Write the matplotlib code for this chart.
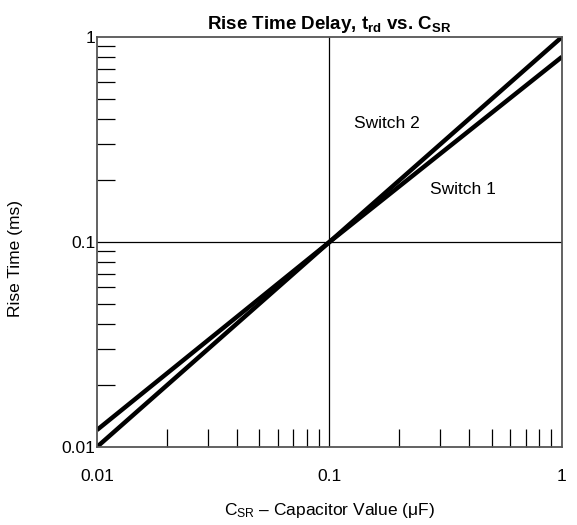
import matplotlib
matplotlib.use('Agg')
import matplotlib.pyplot as plt
from matplotlib.ticker import FixedLocator, NullFormatter

plt.rcParams['font.family'] = ['Liberation Sans', 'DejaVu Sans']
plt.rcParams['mathtext.fontset'] = 'custom'
plt.rcParams['mathtext.rm'] = 'Liberation Sans'
plt.rcParams['mathtext.it'] = 'Liberation Sans'
plt.rcParams['mathtext.bf'] = 'Liberation Sans:bold'

# Data
cap_uf = [0.01, 0.1, 1.0]
switch1_ms = [0.0121, 0.1, 0.80]
switch2_ms = [0.01, 0.1, 1.0]
major_ticks = [0.01, 0.1, 1]
tick_labels = ["0.01", "0.1", "1"]
minor_ticks = [m * d for d in (0.01, 0.1) for m in range(2, 10)]

fig = plt.figure(figsize=(5.77, 5.25), dpi=100)
ax = fig.add_axes([0.168, 0.1486, 0.806, 0.781])

ax.plot(cap_uf, switch1_ms, color='black', lw=3.2, solid_capstyle='butt')
ax.plot(cap_uf, switch2_ms, color='black', lw=3.2, solid_capstyle='butt')

ax.set_xscale('log')
ax.set_yscale('log')
ax.set_xlim(0.01, 1)
ax.set_ylim(0.01, 1)

# grid lines at the middle decade
ax.axvline(0.1, color='black', lw=0.9)
ax.axhline(0.1, color='black', lw=0.9)

ax.xaxis.set_major_locator(FixedLocator(major_ticks))
ax.yaxis.set_major_locator(FixedLocator(major_ticks))
ax.set_xticklabels(tick_labels)
ax.set_yticklabels(tick_labels)
ax.xaxis.set_minor_locator(FixedLocator(minor_ticks))
ax.yaxis.set_minor_locator(FixedLocator(minor_ticks))
ax.xaxis.set_minor_formatter(NullFormatter())
ax.yaxis.set_minor_formatter(NullFormatter())

ax.tick_params(which='major', length=0, labelsize=12.5)
ax.tick_params(axis='x', which='major', pad=16)
ax.tick_params(axis='y', which='major', pad=1)
ax.tick_params(which='minor', direction='in', length=13, width=0.9, color='black')

for s in ax.spines.values():
    s.set_color('#555555')
    s.set_linewidth(1.3)

ax.set_title(r'Rise Time Delay, $\mathbf{t_{rd}}$ vs. $\mathbf{C_{SR}}$',
             fontsize=13.5, fontweight='bold', pad=6)
ax.set_ylabel('Rise Time (ms)', fontsize=12.5)
ax.set_xlabel(r'C$_{\mathrm{SR}}$ – Capacitor Value ($\mu$F)', fontsize=12.5)
ax.yaxis.set_label_coords(-0.176, 0.46)
ax.xaxis.set_label_coords(0.5, -0.154)
ax.xaxis.label.set_va('center')
ax.yaxis.label.set_va('center')

ax.text(0.128, 0.38, 'Switch 2', fontsize=12.5, va='center', ha='left')
ax.text(0.27, 0.18, 'Switch 1', fontsize=12.5, va='center', ha='left')

fig.savefig('out.png', dpi=100)
